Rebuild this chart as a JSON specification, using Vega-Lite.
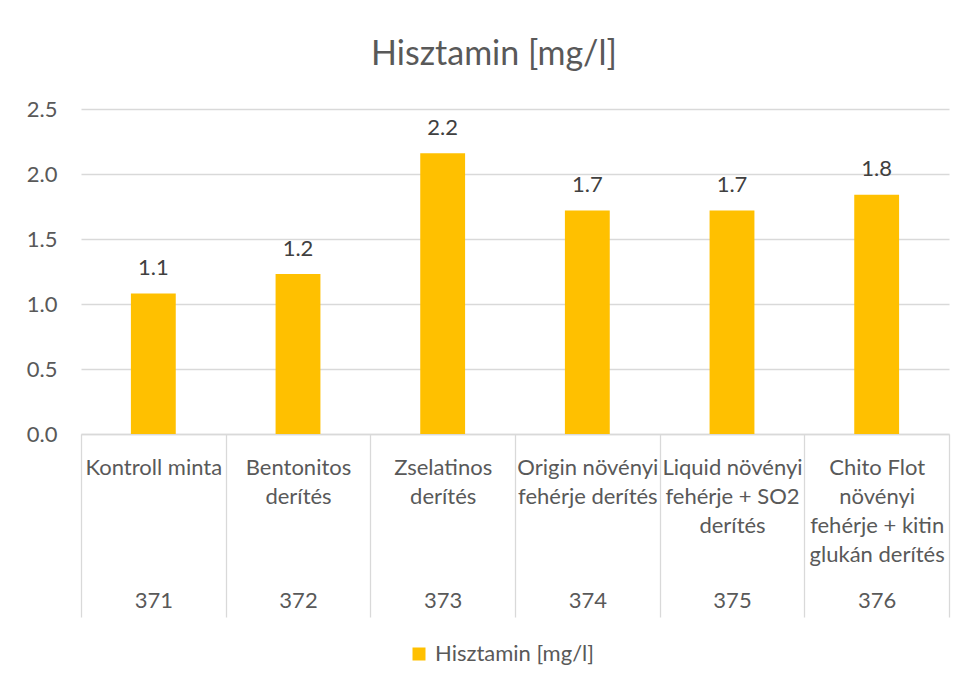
{
  "$schema": "https://vega.github.io/schema/vega-lite/v6.json",
  "width": 868,
  "height": 325,
  "autosize": {"type": "none"},
  "padding": {"left": 81, "top": 109, "right": 15, "bottom": 248},
  "background": "white",
  "title": {"text": "Hisztamin [mg/l]", "fontSize": 34, "font": "Lato", "fontWeight": "normal", "color": "#595959", "anchor": "middle", "offset": 26, "dx": -21},
  "config": {
    "view": {"stroke": null},
    "font": "Lato"
  },
  "data": {"values": [
    {"name": "Kontroll minta", "code": "371", "value": 1.08, "series": "Hisztamin [mg/l]"},
    {"name": "Bentonitos|derítés", "code": "372", "value": 1.23, "series": "Hisztamin [mg/l]"},
    {"name": "Zselatinos|derítés", "code": "373", "value": 2.16, "series": "Hisztamin [mg/l]"},
    {"name": "Origin növényi|fehérje derítés", "code": "374", "value": 1.72, "series": "Hisztamin [mg/l]"},
    {"name": "Liquid növényi|fehérje + SO2|derítés", "code": "375", "value": 1.72, "series": "Hisztamin [mg/l]"},
    {"name": "Chito Flot|növényi|fehérje + kitin|glukán derítés", "code": "376", "value": 1.84, "series": "Hisztamin [mg/l]"}
  ]},
  "layer": [
    {
      "mark": {"type": "bar", "width": {"band": 0.31}},
      "encoding": {
        "x": {
          "field": "name", "type": "nominal", "sort": null,
          "scale": {"paddingInner": 0, "paddingOuter": 0},
          "axis": {
            "orient": "bottom", "title": null,
            "domain": true, "domainColor": "#D9D9D9", "domainWidth": 1.3,
            "ticks": true, "tickBand": "extent", "tickSize": 183, "tickColor": "#D9D9D9", "tickWidth": 1.3,
            "labelExpr": "split(datum.label, '|')",
            "labelAngle": 0, "labelAlign": "center", "labelBaseline": "top",
            "labelPadding": -159.5, "labelFontSize": 22, "labelColor": "#595959",
            "labelLineHeight": 29, "labelLimit": 300, "labelFont": "Lato"
          }
        },
        "y": {
          "field": "value", "type": "quantitative",
          "scale": {"domain": [0, 2.5], "nice": false},
          "axis": {
            "title": null, "values": [0, 0.5, 1, 1.5, 2, 2.5], "format": ".1f",
            "domain": false, "ticks": false, "grid": true, "gridColor": "#D9D9D9", "gridWidth": 1.3,
            "labelFontSize": 22, "labelColor": "#595959", "labelPadding": 24, "labelFont": "Lato"
          }
        },
        "color": {
          "field": "series", "type": "nominal",
          "scale": {"range": ["#FFC000"]},
          "legend": {
            "title": null, "orient": "none", "legendX": 327, "legendY": 534, "direction": "horizontal",
            "symbolType": "square", "symbolSize": 169, "symbolStrokeWidth": 0,
            "labelFontSize": 22, "labelColor": "#595959", "labelFont": "Lato",
            "labelOffset": 5
          }
        }
      }
    },
    {
      "mark": {"type": "text", "baseline": "alphabetic", "dy": -18.6, "fontSize": 22, "color": "#404040", "font": "Lato"},
      "encoding": {
        "x": {
          "field": "code", "type": "nominal", "sort": null,
          "scale": {"paddingInner": 0, "paddingOuter": 0},
          "axis": {
            "orient": "bottom", "title": null,
            "domain": false, "ticks": false, "grid": false,
            "labelAngle": 0, "labelAlign": "center", "labelBaseline": "alphabetic",
            "labelPadding": 173.7, "labelFontSize": 22, "labelColor": "#595959", "labelFont": "Lato"
          }
        },
        "y": {"field": "value", "type": "quantitative"},
        "text": {"field": "value", "type": "quantitative", "format": ".1f"}
      }
    }
  ],
  "resolve": {"scale": {"x": "independent"}, "axis": {"x": "independent"}}
}
